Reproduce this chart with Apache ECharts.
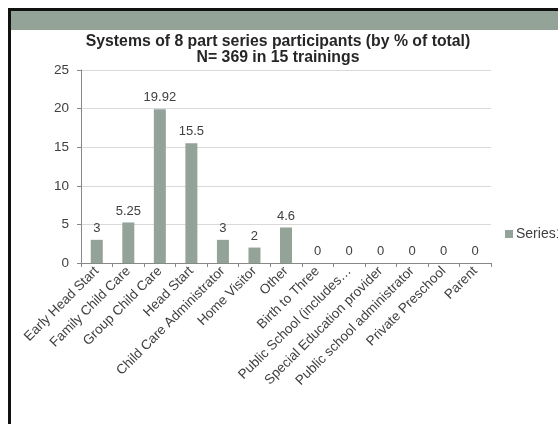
<!DOCTYPE html>
<html><head><meta charset="utf-8">
<script src="https://cdn.jsdelivr.net/npm/echarts@6/dist/echarts.min.js"></script>
<style>html,body{margin:0;padding:0;background:#fff;}#c{width:558px;height:424px;}</style>
</head><body><div id="c"></div>
<script>
const categories = ["Early Head Start","Family Child Care","Group Child Care","Head Start","Child Care Administrator","Home Visitor","Other","Birth to Three","Public School (includes…","Special Education provider","Public school administrator","Private Preschool","Parent"];
const values = [3,5.25,19.92,15.5,3,2,4.6,0,0,0,0,0,0];
const yTicks = [0,5,10,15,20,25];
const seriesName = "Series1";
const titleText = "Systems of 8 part series participants (by % of total)\nN= 369 in 15 trainings";

const chart = echarts.init(document.getElementById('c'), null, {renderer:'canvas'});
chart.setOption({
  animation:false,
  backgroundColor:'#fff',
  graphic:[
    {type:'rect', shape:{x:11,y:11,width:547,height:19}, style:{fill:'#93A397'}},
    {type:'rect', shape:{x:8,y:8,width:550,height:3}, style:{fill:'#111'}},
    {type:'rect', shape:{x:8,y:8,width:3,height:416}, style:{fill:'#111'}}
  ],
  title:{text:titleText, left:278, top:34, textAlign:'center', padding:0,
    textStyle:{fontFamily:'Liberation Sans', fontSize:15.8, fontWeight:'bold', color:'#262626', lineHeight:16}},
  legend:{data:[seriesName], left:505, top:227, itemWidth:8, itemHeight:8, icon:'rect', itemGap:4, padding:0,
    textStyle:{fontFamily:'Liberation Sans', fontSize:14, color:'#404040', padding:[0,0,0,-2]}},
  grid:{left:81, right:67, top:70, bottom:161, containLabel:false},
  xAxis:{type:'category', data:categories,
    axisLine:{lineStyle:{color:'#888', width:1}},
    axisTick:{show:true, alignWithLabel:false, length:4, lineStyle:{color:'#888'}},
    axisLabel:{rotate:45, interval:0, fontFamily:'Liberation Sans', fontSize:13.5, color:'#404040', margin:6}},
  yAxis:{type:'value', min:0, max:25, interval:5,
    axisLine:{show:true, lineStyle:{color:'#888'}},
    axisTick:{show:true, length:4, lineStyle:{color:'#888'}},
    splitLine:{lineStyle:{color:'#d9d9d9'}},
    axisLabel:{fontFamily:'Liberation Sans', fontSize:13.5, color:'#404040', margin:12,
      formatter:v=>yTicks.includes(v)?String(v):''}},
  series:[{name:seriesName, type:'bar', data:values, barWidth:12,
    itemStyle:{color:'#93A397'},
    label:{show:true, position:'top', distance:5, fontFamily:'Liberation Sans', fontSize:13, color:'#404040'}}]
});
</script></body></html>
